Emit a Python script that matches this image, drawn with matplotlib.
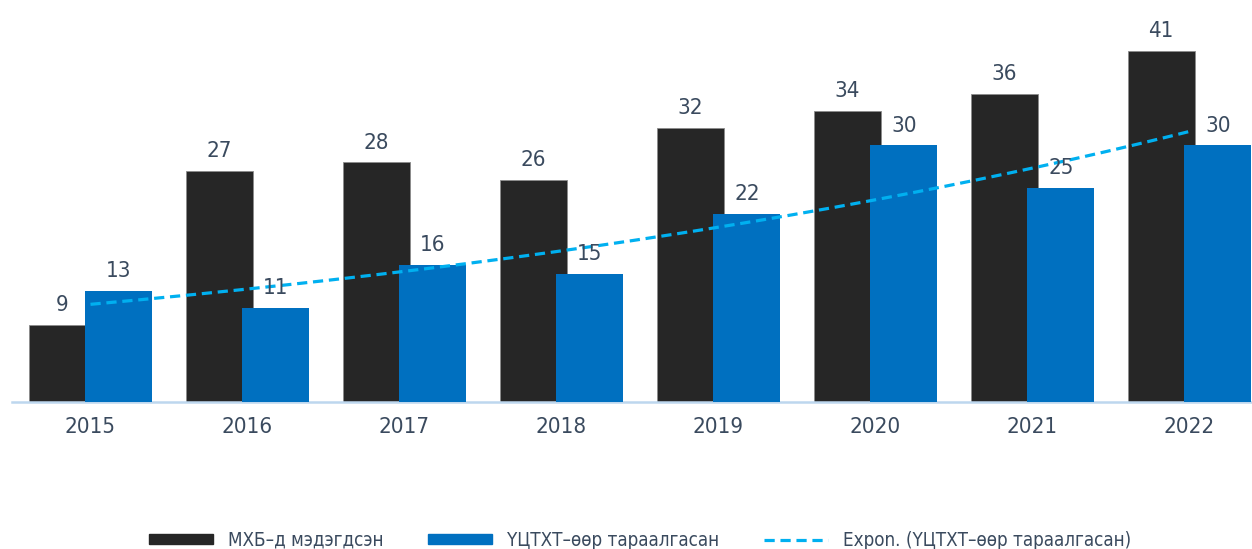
import numpy as np
import matplotlib.pyplot as plt
from matplotlib.lines import Line2D
from matplotlib.patches import Patch

years = ["2015", "2016", "2017", "2018", "2019", "2020", "2021", "2022"]
reported = [9, 27, 28, 26, 32, 34, 36, 41]
distributed = [13, 11, 16, 15, 22, 30, 25, 30]
legend_labels = ["МХБ–д мэдэгдсэн", "ҮЦТХТ–өөр тараалгасан",
                 "Expon. (ҮЦТХТ–өөр тараалгасан)"]

TXT = "#3A4A5E"
DARK = "#262626"
BLUE = "#0070C0"
TREND = "#00B0F0"

plt.rcParams["font.family"] = ["DejaVu Sans"]
plt.rcParams["font.stretch"] = "condensed"

fig = plt.figure(figsize=(12.52, 5.49), dpi=100)
ax = fig.add_axes([12 / 1252, 147 / 549, 1256 / 1252, 385 / 549])

x = np.arange(len(years))
w = 0.424
off = 0.18

b1 = ax.bar(x - off, reported, w, color=DARK, edgecolor="#8c8c8c",
            linewidth=0.6, zorder=2)
b2 = ax.bar(x + off, distributed, w, color=BLUE, zorder=3)

# exponential trend line fitted on the blue series
n = np.arange(1, len(years) + 1)
bcoef, acoef = np.polyfit(n, np.log(distributed), 1)
xs = np.linspace(0, len(years) - 1, 200)
ys = np.exp(acoef + bcoef * (xs + 1))
ax.plot(xs, ys, color=TREND, lw=2.3, ls=(0, (3.2, 1.8)), zorder=4)

for bars, vals in ((b1, reported), (b2, distributed)):
    for r, v in zip(bars, vals):
        ax.annotate(str(v), (r.get_x() + r.get_width() / 2, v),
                    xytext=(0, 7), textcoords="offset points",
                    ha="center", va="bottom", fontsize=16, color=TXT,
                    zorder=5)

ax.set_xlim(-0.5, len(years) - 0.5)
ax.set_ylim(0, 45)
ax.set_xticks(x)
ax.set_xticklabels(years, fontsize=16, color=TXT)
ax.tick_params(axis="x", length=0, pad=11)
ax.set_yticks([])
for s in ["top", "right", "left"]:
    ax.spines[s].set_visible(False)
ax.spines["bottom"].set_color("#BDD7EE")
ax.spines["bottom"].set_linewidth(1.8)

handles = [Patch(color=DARK), Patch(color=BLUE),
           Line2D([], [], color=TREND, lw=2.3, ls=(0, (3.2, 1.8)))]
fig.legend(handles, legend_labels, loc="center", bbox_to_anchor=(0.511, 0.016),
           ncol=3, frameon=False, fontsize=13.5, labelcolor=TXT,
           handlelength=3.4, handleheight=0.5, columnspacing=2.4,
           handletextpad=0.8)

fig.savefig("out.png", dpi=100)
